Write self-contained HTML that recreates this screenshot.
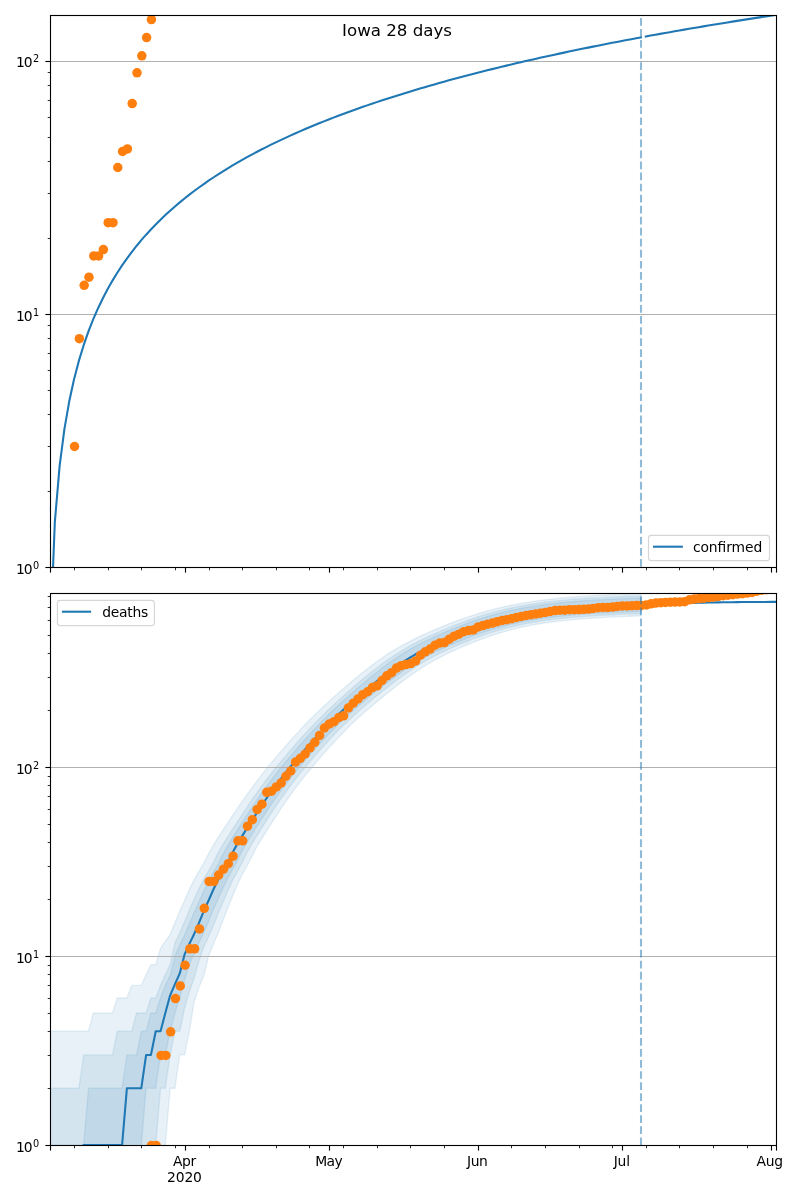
<!DOCTYPE html>
<html><head><meta charset="utf-8"><title>Iowa 28 days</title>
<style>html,body{margin:0;padding:0;background:#fff}body{width:800px;height:1200px;overflow:hidden}</style></head>
<body>
<svg width="800" height="1200" viewBox="0 0 800 1200" style="display:block;font-family:'DejaVu Sans', 'Liberation Sans', sans-serif">
<rect width="800" height="1200" fill="#fff"/>
<defs><clipPath id="c1"><rect x="50.03" y="15" width="726.4" height="552.4"/></clipPath><clipPath id="c2"><rect x="50.03" y="593" width="726.4" height="552.4"/></clipPath></defs>
<g clip-path="url(#c2)">
<polygon points="50.03,1031.31 54.83,1031.31 59.64,1031.31 64.44,1031.31 69.25,1031.31 74.05,1031.31 78.86,1031.31 83.66,1031.31 88.47,1031.31 93.27,1012.99 98.08,1012.99 102.88,1012.99 107.68,1012.99 112.49,1012.99 117.29,998.03 122.1,998.03 126.9,998.03 131.71,985.38 136.51,985.38 141.32,985.38 146.12,974.42 150.92,964.75 155.73,964.75 160.53,948.28 165.34,941.13 170.14,934.56 174.95,922.82 179.75,911.11 184.56,900.45 189.36,889.54 194.16,879.59 198.97,871.35 203.77,863.17 208.58,853.52 213.38,845.03 218.19,837.44 222.99,830 227.8,822.69 232.6,815.52 237.41,808.39 242.21,801.44 247.01,794.54 251.82,787.88 256.62,781.39 261.43,775.09 266.23,769.01 271.04,763.15 275.84,757.41 280.65,751.76 285.45,746.19 290.25,740.73 295.06,735.38 299.86,730.15 304.67,725.06 309.47,720.1 314.28,715.29 319.08,710.65 323.89,706.13 328.69,701.7 333.5,697.33 338.3,693.03 343.1,688.82 347.91,684.69 352.71,680.63 357.52,676.67 362.32,672.8 367.13,669.02 371.93,665.34 376.74,661.77 381.54,658.3 386.35,654.94 391.15,651.87 395.95,648.97 400.76,646.22 405.56,643.58 410.37,641.05 415.17,638.6 419.98,636.27 424.78,634.04 429.59,631.89 434.39,629.8 439.19,627.77 444,625.79 448.8,623.86 453.61,622.01 458.41,620.24 463.22,618.54 468.02,616.89 472.83,615.3 477.63,613.79 482.43,612.36 487.24,611.02 492.04,609.74 496.85,608.51 501.65,607.36 506.46,606.29 511.26,605.29 516.07,604.34 520.87,603.44 525.68,602.6 530.48,601.83 535.28,601.12 540.09,600.45 544.89,599.83 549.7,599.25 554.5,598.72 559.31,598.22 564.11,597.76 568.92,597.33 573.72,596.93 578.52,596.56 583.33,596.22 588.13,595.91 592.94,595.61 597.74,595.34 602.55,595.08 607.35,594.83 612.16,594.59 616.96,594.37 621.77,594.15 626.57,593.94 631.37,593.74 636.18,593.56 640.98,593.37 640.98,615.84 636.18,616.03 631.37,616.22 626.57,616.42 621.77,616.64 616.96,616.86 612.16,617.09 607.35,617.34 602.55,617.6 597.74,617.88 592.94,618.18 588.13,618.5 583.33,618.84 578.52,619.22 573.72,619.63 568.92,620.08 564.11,620.57 559.31,621.11 554.5,621.68 549.7,622.31 544.89,622.99 540.09,623.75 535.28,624.56 530.48,625.44 525.68,626.4 520.87,627.44 516.07,628.58 511.26,629.79 506.46,631.08 501.65,632.45 496.85,633.92 492.04,635.5 487.24,637.16 482.43,638.89 477.63,640.68 472.83,642.54 468.02,644.48 463.22,646.48 458.41,648.56 453.61,650.72 448.8,652.95 444,655.27 439.19,657.72 434.39,660.33 429.59,663.1 424.78,666.01 419.98,669.06 415.17,672.26 410.37,675.6 405.56,679.06 400.76,682.65 395.95,686.35 391.15,690.16 386.35,694.07 381.54,697.91 376.74,701.86 371.93,705.9 367.13,710.01 362.32,714.22 357.52,718.58 352.71,723.11 347.91,727.8 343.1,732.64 338.3,737.64 333.5,742.77 328.69,748.04 323.89,753.42 319.08,758.91 314.28,764.49 309.47,770.21 304.67,776.15 299.86,782.32 295.06,788.69 290.25,795.24 285.45,802.04 280.65,809.2 275.84,816.55 271.04,823.96 266.23,831.54 261.43,839.23 256.62,847.25 251.82,856.53 247.01,866.09 242.21,874.48 237.41,884.49 232.6,896.11 227.8,907.89 222.99,920.53 218.19,932.89 213.38,943.93 208.58,955.98 203.77,975.93 198.97,987.37 194.16,1001.79 189.36,1031.31 184.56,1054.92 179.75,1054.92 174.95,1088.21 170.14,1088.21 165.34,1145.1 160.53,1400 155.73,1400 150.92,1400 146.12,1400 141.32,1400 136.51,1400 131.71,1400 126.9,1400 122.1,1400 117.29,1400 112.49,1400 107.68,1400 102.88,1400 98.08,1400 93.27,1400 88.47,1400 83.66,1400 78.86,1400 74.05,1400 69.25,1400 64.44,1400 59.64,1400 54.83,1400 50.03,1400" fill="#1f77b4" fill-opacity="0.1" stroke="#1f77b4" stroke-opacity="0.1" stroke-width="1.39" stroke-linejoin="miter"/>
<polygon points="50.03,1088.21 54.83,1088.21 59.64,1088.21 64.44,1088.21 69.25,1088.21 74.05,1088.21 78.86,1088.21 83.66,1054.92 88.47,1054.92 93.27,1054.92 98.08,1054.92 102.88,1054.92 107.68,1054.92 112.49,1054.92 117.29,1031.31 122.1,1031.31 126.9,1031.31 131.71,1031.31 136.51,1012.99 141.32,1012.99 146.12,1012.99 150.92,998.03 155.73,998.03 160.53,985.38 165.34,974.42 170.14,964.75 174.95,942.9 179.75,932.88 184.56,921.67 189.36,910 194.16,899.36 198.97,888.81 203.77,879.22 208.58,870.92 213.38,862.61 218.19,852.83 222.99,844.35 227.8,836.72 232.6,829.2 237.41,821.82 242.21,814.59 247.01,807.17 251.82,799.97 256.62,793.14 261.43,786.49 266.23,780.03 271.04,773.77 275.84,767.72 280.65,761.89 285.45,756.15 290.25,750.5 295.06,744.95 299.86,739.5 304.67,734.17 309.47,728.96 314.28,723.87 319.08,718.93 323.89,714.14 328.69,709.51 333.5,705 338.3,700.57 343.1,696.22 347.91,691.94 352.71,687.74 357.52,683.61 362.32,679.57 367.13,675.62 371.93,671.76 376.74,668 381.54,664.33 386.35,660.78 391.15,657.49 395.95,654.32 400.76,651.29 405.56,648.42 410.37,645.7 415.17,643.1 419.98,640.62 424.78,638.26 429.59,635.99 434.39,633.8 439.19,631.69 444,629.65 448.8,627.67 453.61,625.73 458.41,623.85 463.22,622.03 468.02,620.27 472.83,618.59 477.63,616.98 482.43,615.46 487.24,614.02 492.04,612.66 496.85,611.37 501.65,610.15 506.46,609.02 511.26,607.95 516.07,606.95 520.87,606.01 525.68,605.13 530.48,604.33 535.28,603.59 540.09,602.9 544.89,602.26 549.7,601.66 554.5,601.11 559.31,600.6 564.11,600.13 568.92,599.68 573.72,599.27 578.52,598.9 583.33,598.56 588.13,598.24 592.94,597.94 597.74,597.67 602.55,597.4 607.35,597.15 612.16,596.91 616.96,596.69 621.77,596.47 626.57,596.26 631.37,596.07 636.18,595.88 640.98,595.69 640.98,613.53 636.18,613.72 631.37,613.9 626.57,614.1 621.77,614.31 616.96,614.53 612.16,614.77 607.35,615.01 602.55,615.27 597.74,615.54 592.94,615.83 588.13,616.14 583.33,616.47 578.52,616.84 573.72,617.23 568.92,617.67 564.11,618.14 559.31,618.66 554.5,619.21 549.7,619.81 544.89,620.46 540.09,621.17 535.28,621.94 530.48,622.78 525.68,623.69 520.87,624.67 516.07,625.74 511.26,626.89 506.46,628.11 501.65,629.41 496.85,630.81 492.04,632.29 487.24,633.87 482.43,635.53 477.63,637.28 472.83,639.1 468.02,640.98 463.22,642.92 458.41,644.91 453.61,646.97 448.8,649.1 444,651.32 439.19,653.63 434.39,656.06 429.59,658.62 424.78,661.34 419.98,664.22 415.17,667.25 410.37,670.43 405.56,673.75 400.76,677.2 395.95,680.76 391.15,684.44 386.35,688.22 381.54,691.97 376.74,695.82 371.93,699.76 367.13,703.8 362.32,707.91 357.52,712.11 352.71,716.43 347.91,720.91 343.1,725.56 338.3,730.36 333.5,735.33 328.69,740.43 323.89,745.67 319.08,751.02 314.28,756.49 309.47,762.05 304.67,767.72 299.86,773.58 295.06,779.67 290.25,785.98 285.45,792.48 280.65,799.16 275.84,806.2 271.04,813.52 266.23,820.9 261.43,828.41 256.62,836.1 251.82,843.88 247.01,852.5 242.21,862.54 237.41,871.42 232.6,880.39 227.8,890.84 222.99,902.18 218.19,913.41 213.38,925.56 208.58,936.8 203.77,947.05 198.97,960.92 194.16,978.13 189.36,991.46 184.56,1008.21 179.75,1031.31 174.95,1031.31 170.14,1054.92 165.34,1088.21 160.53,1088.21 155.73,1145.1 150.92,1400 146.12,1400 141.32,1400 136.51,1400 131.71,1400 126.9,1400 122.1,1400 117.29,1400 112.49,1400 107.68,1400 102.88,1400 98.08,1400 93.27,1400 88.47,1400 83.66,1400 78.86,1400 74.05,1400 69.25,1400 64.44,1400 59.64,1400 54.83,1400 50.03,1400" fill="#1f77b4" fill-opacity="0.1" stroke="#1f77b4" stroke-opacity="0.1" stroke-width="1.39" stroke-linejoin="miter"/>
<polygon points="50.03,1145.1 54.83,1145.1 59.64,1145.1 64.44,1145.1 69.25,1145.1 74.05,1145.1 78.86,1145.1 83.66,1145.1 88.47,1088.21 93.27,1088.21 98.08,1088.21 102.88,1088.21 107.68,1088.21 112.49,1088.21 117.29,1088.21 122.1,1088.21 126.9,1054.92 131.71,1054.92 136.51,1054.92 141.32,1031.31 146.12,1031.31 150.92,1012.99 155.73,1012.99 160.53,998.03 165.34,985.38 170.14,975.45 174.95,955.98 179.75,944.92 184.56,934.97 189.36,923.96 194.16,912.24 198.97,901.68 203.77,890.91 208.58,880.94 213.38,872.35 218.19,864 222.99,854.19 227.8,845.38 232.6,837.55 237.41,829.91 242.21,822.41 247.01,814.94 251.82,807.52 256.62,800.31 261.43,793.45 266.23,786.81 271.04,780.34 275.84,774.06 280.65,768.01 285.45,762.16 290.25,756.43 295.06,750.78 299.86,745.23 304.67,739.78 309.47,734.44 314.28,729.23 319.08,724.15 323.89,719.21 328.69,714.41 333.5,709.78 338.3,705.29 343.1,700.88 347.91,696.54 352.71,692.27 357.52,688.08 362.32,683.97 367.13,679.95 371.93,676.01 376.74,672.18 381.54,668.44 386.35,664.8 391.15,661.41 395.95,658.13 400.76,654.97 405.56,651.96 410.37,649.1 415.17,646.4 419.98,643.84 424.78,641.41 429.59,639.08 434.39,636.83 439.19,634.67 444,632.59 448.8,630.58 453.61,628.62 458.41,626.7 463.22,624.83 468.02,623.01 472.83,621.27 477.63,619.62 482.43,618.06 487.24,616.58 492.04,615.17 496.85,613.85 501.65,612.6 506.46,611.43 511.26,610.34 516.07,609.31 520.87,608.34 525.68,607.45 530.48,606.63 535.28,605.88 540.09,605.17 544.89,604.52 549.7,603.92 554.5,603.36 559.31,602.84 564.11,602.36 568.92,601.91 573.72,601.5 578.52,601.12 583.33,600.78 588.13,600.46 592.94,600.16 597.74,599.88 602.55,599.61 607.35,599.36 612.16,599.12 616.96,598.9 621.77,598.68 626.57,598.47 631.37,598.27 636.18,598.09 640.98,597.9 640.98,611.32 636.18,611.51 631.37,611.69 626.57,611.89 621.77,612.1 616.96,612.32 612.16,612.55 607.35,612.79 602.55,613.05 597.74,613.32 592.94,613.6 588.13,613.9 583.33,614.23 578.52,614.58 573.72,614.97 568.92,615.4 564.11,615.87 559.31,616.36 554.5,616.9 549.7,617.48 544.89,618.11 540.09,618.8 535.28,619.54 530.48,620.34 525.68,621.22 520.87,622.17 516.07,623.2 511.26,624.3 506.46,625.46 501.65,626.72 496.85,628.06 492.04,629.49 487.24,631 482.43,632.59 477.63,634.28 472.83,636.06 468.02,637.91 463.22,639.81 458.41,641.75 453.61,643.74 448.8,645.8 444,647.94 439.19,650.17 434.39,652.49 429.59,654.92 424.78,657.47 419.98,660.19 415.17,663.07 410.37,666.12 405.56,669.31 400.76,672.63 395.95,676.07 391.15,679.63 386.35,683.31 381.54,686.97 376.74,690.73 371.93,694.6 367.13,698.56 362.32,702.61 357.52,706.73 352.71,710.94 347.91,715.25 343.1,719.71 338.3,724.35 333.5,729.15 328.69,734.1 323.89,739.2 319.08,744.43 314.28,749.78 309.47,755.24 304.67,760.79 299.86,766.44 295.06,772.27 290.25,778.33 285.45,784.6 280.65,791.07 275.84,797.71 271.04,804.7 266.23,811.98 261.43,819.35 256.62,826.85 251.82,834.51 247.01,842.23 242.21,850.65 237.41,860.68 232.6,869.54 227.8,878.1 222.99,887.91 218.19,898.83 213.38,909.58 208.58,921.32 203.77,932.66 198.97,942.8 194.16,953.17 189.36,964.75 184.56,979.71 179.75,998.03 174.95,1012.99 170.14,1031.31 165.34,1054.92 160.53,1054.92 155.73,1088.21 150.92,1088.21 146.12,1088.21 141.32,1145.1 136.51,1400 131.71,1400 126.9,1400 122.1,1400 117.29,1400 112.49,1400 107.68,1400 102.88,1400 98.08,1400 93.27,1400 88.47,1400 83.66,1400 78.86,1400 74.05,1400 69.25,1400 64.44,1400 59.64,1400 54.83,1400 50.03,1400" fill="#1f77b4" fill-opacity="0.1" stroke="#1f77b4" stroke-opacity="0.1" stroke-width="1.39" stroke-linejoin="miter"/>
</g>
<line x1="50.5" y1="61.5" x2="776.5" y2="61.5" stroke="#b0b0b0" stroke-width="1.11"/>
<line x1="50.5" y1="314.5" x2="776.5" y2="314.5" stroke="#b0b0b0" stroke-width="1.11"/>
<line x1="50.5" y1="767.5" x2="776.5" y2="767.5" stroke="#b0b0b0" stroke-width="1.11"/>
<line x1="50.5" y1="956.5" x2="776.5" y2="956.5" stroke="#b0b0b0" stroke-width="1.11"/>
<g clip-path="url(#c1)">
<polyline points="50.03,642.86 54.83,522.05 59.64,465.91 64.44,428.93 69.25,401.31 74.05,379.26 78.86,360.9 83.66,345.18 88.47,331.42 93.27,319.2 98.08,308.2 102.88,298.21 107.68,289.04 112.49,280.59 117.29,272.74 122.1,265.41 126.9,258.54 131.71,252.07 136.51,245.97 141.32,240.18 146.12,234.69 150.92,229.45 155.73,224.46 160.53,219.68 165.34,215.1 170.14,210.71 174.95,206.48 179.75,202.41 184.56,198.48 189.36,194.69 194.16,191.03 198.97,187.49 203.77,184.05 208.58,180.72 213.38,177.49 218.19,174.35 222.99,171.3 227.8,168.33 232.6,165.44 237.41,162.62 242.21,159.87 247.01,157.19 251.82,154.58 256.62,152.02 261.43,149.52 266.23,147.08 271.04,144.69 275.84,142.36 280.65,140.07 285.45,137.82 290.25,135.63 295.06,133.47 299.86,131.36 304.67,129.29 309.47,127.25 314.28,125.25 319.08,123.29 323.89,121.36 328.69,119.47 333.5,117.61 338.3,115.77 343.1,113.97 347.91,112.2 352.71,110.46 357.52,108.74 362.32,107.05 367.13,105.38 371.93,103.74 376.74,102.13 381.54,100.54 386.35,98.97 391.15,97.42 395.95,95.89 400.76,94.39 405.56,92.9 410.37,91.44 415.17,89.99 419.98,88.56 424.78,87.16 429.59,85.77 434.39,84.39 439.19,83.04 444,81.7 448.8,80.37 453.61,79.06 458.41,77.77 463.22,76.49 468.02,75.23 472.83,73.98 477.63,72.75 482.43,71.53 487.24,70.32 492.04,69.12 496.85,67.94 501.65,66.77 506.46,65.62 511.26,64.47 516.07,63.34 520.87,62.22 525.68,61.11 530.48,60.01 535.28,58.92 540.09,57.84 544.89,56.78 549.7,55.72 554.5,54.68 559.31,53.64 564.11,52.61 568.92,51.59 573.72,50.59 578.52,49.59 583.33,48.6 588.13,47.62 592.94,46.64 597.74,45.68 602.55,44.72 607.35,43.78 612.16,42.84 616.96,41.91 621.77,40.98 626.57,40.07 631.37,39.16 636.18,38.26 640.98,37.37" fill="none" stroke="#1f77b4" stroke-width="2.08" stroke-linejoin="round" stroke-linecap="square"/>
<polyline points="645.79,36.48 650.59,35.6 655.4,34.73 660.2,33.86 665.01,33.01 669.81,32.15 674.62,31.31 679.42,30.47 684.22,29.64 689.03,28.81 693.83,27.99 698.64,27.18 703.44,26.37 708.25,25.57 713.05,24.77 717.86,23.98 722.66,23.2 727.46,22.42 732.27,21.64 737.07,20.87 741.88,20.11 746.68,19.35 751.49,18.6 756.29,17.85 761.1,17.11 765.9,16.37 770.7,15.64 775.51,14.91 780.31,14.19" fill="none" stroke="#1f77b4" stroke-width="2.08" stroke-linejoin="round" stroke-linecap="square"/>
<circle cx="74.55" cy="446.49" r="4.75" fill="#ff7f0e"/>
<circle cx="79.36" cy="338.72" r="4.75" fill="#ff7f0e"/>
<circle cx="84.16" cy="285.37" r="4.75" fill="#ff7f0e"/>
<circle cx="88.97" cy="277.23" r="4.75" fill="#ff7f0e"/>
<circle cx="93.77" cy="255.9" r="4.75" fill="#ff7f0e"/>
<circle cx="98.58" cy="255.9" r="4.75" fill="#ff7f0e"/>
<circle cx="103.38" cy="249.62" r="4.75" fill="#ff7f0e"/>
<circle cx="108.18" cy="222.68" r="4.75" fill="#ff7f0e"/>
<circle cx="112.99" cy="222.68" r="4.75" fill="#ff7f0e"/>
<circle cx="117.79" cy="167.51" r="4.75" fill="#ff7f0e"/>
<circle cx="122.6" cy="151.41" r="4.75" fill="#ff7f0e"/>
<circle cx="127.4" cy="148.94" r="4.75" fill="#ff7f0e"/>
<circle cx="132.21" cy="103.58" r="4.75" fill="#ff7f0e"/>
<circle cx="137.01" cy="72.78" r="4.75" fill="#ff7f0e"/>
<circle cx="141.82" cy="55.84" r="4.75" fill="#ff7f0e"/>
<circle cx="146.62" cy="37.56" r="4.75" fill="#ff7f0e"/>
<circle cx="151.42" cy="19.62" r="4.75" fill="#ff7f0e"/>
<line x1="641" y1="566.7" x2="641" y2="14.700000000000045" stroke="#1f77b4" stroke-opacity="0.5" stroke-width="2.08" stroke-dasharray="7.71 3.33"/>
</g>
<g clip-path="url(#c2)">
<polyline points="83.66,1145.1 88.47,1145.1 93.27,1145.1 98.08,1145.1 102.88,1145.1 107.68,1145.1 112.49,1145.1 117.29,1145.1 122.1,1145.1 126.9,1088.21 131.71,1088.21 136.51,1088.21 141.32,1088.21 146.12,1054.92 150.92,1054.92 155.73,1031.31 160.53,1031.31 165.34,1012.99 170.14,995.34 174.95,984.21 179.75,973.4 184.56,954.47 189.36,943.92 194.16,933.94 198.97,922.82 203.77,911.11 208.58,900.45 213.38,889.54 218.19,879.59 222.99,871.01 227.8,862.44 232.6,852.38 237.41,843.72 242.21,835.92 247.01,828.2 251.82,820.64 256.62,813.22 261.43,805.85 266.23,798.75 271.04,792.01 275.84,785.45 280.65,779.07 285.45,772.9 290.25,766.96 295.06,761.22 299.86,755.57 304.67,750.01 309.47,744.56 314.28,739.21 319.08,733.98 323.89,728.89 328.69,723.94 333.5,719.14 338.3,714.5 343.1,710.04 347.91,705.7 352.71,701.43 357.52,697.23 362.32,693.11 367.13,689.07 371.93,685.12 376.74,681.27 381.54,677.52 386.35,673.87 391.15,670.34 395.95,666.92 400.76,663.62 405.56,660.45 410.37,657.41 415.17,654.53 419.98,651.84 424.78,649.3 429.59,646.89 434.39,644.56 439.19,642.32 444,640.18 448.8,638.11 453.61,636.12 458.41,634.18 463.22,632.27 468.02,630.4 472.83,628.59 477.63,626.87 482.43,625.25 487.24,623.73 492.04,622.28 496.85,620.9 501.65,619.6 506.46,618.4 511.26,617.28 516.07,616.22 520.87,615.22 525.68,614.3 530.48,613.46 535.28,612.69 540.09,611.97 544.89,611.3 549.7,610.68 554.5,610.12 559.31,609.59 564.11,609.1 568.92,608.65 573.72,608.23 578.52,607.85 583.33,607.5 588.13,607.18 592.94,606.88 597.74,606.6 602.55,606.33 607.35,606.07 612.16,605.83 616.96,605.61 621.77,605.39 626.57,605.18 631.37,604.98 636.18,604.8 640.98,604.61" fill="none" stroke="#1f77b4" stroke-width="2.08" stroke-linejoin="round" stroke-linecap="square"/>
<polyline points="645.79,604.4 650.59,604.19 655.4,603.97 660.2,603.77 665.01,603.6 669.81,603.45 674.62,603.32 679.42,603.2 684.22,603.08 689.03,602.97 693.83,602.86 698.64,602.74 703.44,602.63 708.25,602.52 713.05,602.42 717.86,602.34 722.66,602.27 727.46,602.22 732.27,602.17 737.07,602.12 741.88,602.08 746.68,602.04 751.49,602.01 756.29,601.98 761.1,601.95 765.9,601.92 770.7,601.9 775.51,601.88 780.31,601.86" fill="none" stroke="#1f77b4" stroke-width="2.08" stroke-linejoin="round" stroke-linecap="square"/>
<circle cx="151.42" cy="1145.6" r="4.75" fill="#ff7f0e"/>
<circle cx="156.23" cy="1145.6" r="4.75" fill="#ff7f0e"/>
<circle cx="161.03" cy="1055.42" r="4.75" fill="#ff7f0e"/>
<circle cx="165.84" cy="1055.42" r="4.75" fill="#ff7f0e"/>
<circle cx="170.64" cy="1031.81" r="4.75" fill="#ff7f0e"/>
<circle cx="175.45" cy="998.53" r="4.75" fill="#ff7f0e"/>
<circle cx="180.25" cy="985.88" r="4.75" fill="#ff7f0e"/>
<circle cx="185.06" cy="965.25" r="4.75" fill="#ff7f0e"/>
<circle cx="189.86" cy="948.78" r="4.75" fill="#ff7f0e"/>
<circle cx="194.66" cy="948.78" r="4.75" fill="#ff7f0e"/>
<circle cx="199.47" cy="928.98" r="4.75" fill="#ff7f0e"/>
<circle cx="204.27" cy="908.35" r="4.75" fill="#ff7f0e"/>
<circle cx="209.08" cy="881.39" r="4.75" fill="#ff7f0e"/>
<circle cx="213.88" cy="881.39" r="4.75" fill="#ff7f0e"/>
<circle cx="218.69" cy="875.07" r="4.75" fill="#ff7f0e"/>
<circle cx="223.49" cy="869.21" r="4.75" fill="#ff7f0e"/>
<circle cx="228.3" cy="863.73" r="4.75" fill="#ff7f0e"/>
<circle cx="233.1" cy="856.15" r="4.75" fill="#ff7f0e"/>
<circle cx="237.91" cy="840.78" r="4.75" fill="#ff7f0e"/>
<circle cx="242.71" cy="840.78" r="4.75" fill="#ff7f0e"/>
<circle cx="247.51" cy="826.15" r="4.75" fill="#ff7f0e"/>
<circle cx="252.32" cy="819.71" r="4.75" fill="#ff7f0e"/>
<circle cx="257.12" cy="809.53" r="4.75" fill="#ff7f0e"/>
<circle cx="261.93" cy="804.23" r="4.75" fill="#ff7f0e"/>
<circle cx="266.73" cy="792.32" r="4.75" fill="#ff7f0e"/>
<circle cx="271.54" cy="791.21" r="4.75" fill="#ff7f0e"/>
<circle cx="276.34" cy="786.95" r="4.75" fill="#ff7f0e"/>
<circle cx="281.15" cy="782.89" r="4.75" fill="#ff7f0e"/>
<circle cx="285.95" cy="776.25" r="4.75" fill="#ff7f0e"/>
<circle cx="290.75" cy="770.95" r="4.75" fill="#ff7f0e"/>
<circle cx="295.56" cy="762.05" r="4.75" fill="#ff7f0e"/>
<circle cx="300.36" cy="758.3" r="4.75" fill="#ff7f0e"/>
<circle cx="305.17" cy="754.01" r="4.75" fill="#ff7f0e"/>
<circle cx="309.97" cy="747.98" r="4.75" fill="#ff7f0e"/>
<circle cx="314.78" cy="742.36" r="4.75" fill="#ff7f0e"/>
<circle cx="319.58" cy="735.42" r="4.75" fill="#ff7f0e"/>
<circle cx="324.39" cy="728" r="4.75" fill="#ff7f0e"/>
<circle cx="329.19" cy="724.05" r="4.75" fill="#ff7f0e"/>
<circle cx="334" cy="721.67" r="4.75" fill="#ff7f0e"/>
<circle cx="338.8" cy="717.55" r="4.75" fill="#ff7f0e"/>
<circle cx="343.6" cy="715.78" r="4.75" fill="#ff7f0e"/>
<circle cx="348.41" cy="707.88" r="4.75" fill="#ff7f0e"/>
<circle cx="353.21" cy="703.26" r="4.75" fill="#ff7f0e"/>
<circle cx="358.02" cy="698.88" r="4.75" fill="#ff7f0e"/>
<circle cx="362.82" cy="694.72" r="4.75" fill="#ff7f0e"/>
<circle cx="367.63" cy="691.74" r="4.75" fill="#ff7f0e"/>
<circle cx="372.43" cy="687.61" r="4.75" fill="#ff7f0e"/>
<circle cx="377.24" cy="685.77" r="4.75" fill="#ff7f0e"/>
<circle cx="382.04" cy="680.49" r="4.75" fill="#ff7f0e"/>
<circle cx="386.85" cy="675.8" r="4.75" fill="#ff7f0e"/>
<circle cx="391.65" cy="672.64" r="4.75" fill="#ff7f0e"/>
<circle cx="396.45" cy="668.12" r="4.75" fill="#ff7f0e"/>
<circle cx="401.26" cy="665.71" r="4.75" fill="#ff7f0e"/>
<circle cx="406.06" cy="664.54" r="4.75" fill="#ff7f0e"/>
<circle cx="410.87" cy="663.61" r="4.75" fill="#ff7f0e"/>
<circle cx="415.67" cy="660.88" r="4.75" fill="#ff7f0e"/>
<circle cx="420.48" cy="655.26" r="4.75" fill="#ff7f0e"/>
<circle cx="425.28" cy="651.78" r="4.75" fill="#ff7f0e"/>
<circle cx="430.09" cy="649.03" r="4.75" fill="#ff7f0e"/>
<circle cx="434.89" cy="645.24" r="4.75" fill="#ff7f0e"/>
<circle cx="439.69" cy="643.06" r="4.75" fill="#ff7f0e"/>
<circle cx="444.5" cy="642.52" r="4.75" fill="#ff7f0e"/>
<circle cx="449.3" cy="639.19" r="4.75" fill="#ff7f0e"/>
<circle cx="454.11" cy="636.15" r="4.75" fill="#ff7f0e"/>
<circle cx="458.91" cy="634.19" r="4.75" fill="#ff7f0e"/>
<circle cx="463.72" cy="631.65" r="4.75" fill="#ff7f0e"/>
<circle cx="468.52" cy="630.56" r="4.75" fill="#ff7f0e"/>
<circle cx="473.33" cy="629.94" r="4.75" fill="#ff7f0e"/>
<circle cx="478.13" cy="626.93" r="4.75" fill="#ff7f0e"/>
<circle cx="482.93" cy="625.61" r="4.75" fill="#ff7f0e"/>
<circle cx="487.74" cy="624.17" r="4.75" fill="#ff7f0e"/>
<circle cx="492.54" cy="623.03" r="4.75" fill="#ff7f0e"/>
<circle cx="497.35" cy="621.63" r="4.75" fill="#ff7f0e"/>
<circle cx="502.15" cy="620.39" r="4.75" fill="#ff7f0e"/>
<circle cx="506.96" cy="619.71" r="4.75" fill="#ff7f0e"/>
<circle cx="511.76" cy="618.64" r="4.75" fill="#ff7f0e"/>
<circle cx="516.57" cy="617.44" r="4.75" fill="#ff7f0e"/>
<circle cx="521.37" cy="616.39" r="4.75" fill="#ff7f0e"/>
<circle cx="526.18" cy="615.49" r="4.75" fill="#ff7f0e"/>
<circle cx="530.98" cy="614.72" r="4.75" fill="#ff7f0e"/>
<circle cx="535.78" cy="613.96" r="4.75" fill="#ff7f0e"/>
<circle cx="540.59" cy="613.21" r="4.75" fill="#ff7f0e"/>
<circle cx="545.39" cy="612.46" r="4.75" fill="#ff7f0e"/>
<circle cx="550.2" cy="611.47" r="4.75" fill="#ff7f0e"/>
<circle cx="555" cy="610.62" r="4.75" fill="#ff7f0e"/>
<circle cx="559.81" cy="610.26" r="4.75" fill="#ff7f0e"/>
<circle cx="564.61" cy="610.14" r="4.75" fill="#ff7f0e"/>
<circle cx="569.42" cy="609.65" r="4.75" fill="#ff7f0e"/>
<circle cx="574.22" cy="609.65" r="4.75" fill="#ff7f0e"/>
<circle cx="579.02" cy="609.53" r="4.75" fill="#ff7f0e"/>
<circle cx="583.83" cy="609.3" r="4.75" fill="#ff7f0e"/>
<circle cx="588.63" cy="609.06" r="4.75" fill="#ff7f0e"/>
<circle cx="593.44" cy="608.46" r="4.75" fill="#ff7f0e"/>
<circle cx="598.24" cy="607.76" r="4.75" fill="#ff7f0e"/>
<circle cx="603.05" cy="607.41" r="4.75" fill="#ff7f0e"/>
<circle cx="607.85" cy="607.41" r="4.75" fill="#ff7f0e"/>
<circle cx="612.66" cy="607.06" r="4.75" fill="#ff7f0e"/>
<circle cx="617.46" cy="606.48" r="4.75" fill="#ff7f0e"/>
<circle cx="622.27" cy="605.91" r="4.75" fill="#ff7f0e"/>
<circle cx="627.07" cy="605.91" r="4.75" fill="#ff7f0e"/>
<circle cx="631.87" cy="605.68" r="4.75" fill="#ff7f0e"/>
<circle cx="636.68" cy="605.56" r="4.75" fill="#ff7f0e"/>
<circle cx="641.48" cy="605.45" r="4.75" fill="#ff7f0e"/>
<circle cx="646.29" cy="605" r="4.75" fill="#ff7f0e"/>
<circle cx="651.09" cy="603.87" r="4.75" fill="#ff7f0e"/>
<circle cx="655.9" cy="603.09" r="4.75" fill="#ff7f0e"/>
<circle cx="660.7" cy="602.76" r="4.75" fill="#ff7f0e"/>
<circle cx="665.51" cy="602.43" r="4.75" fill="#ff7f0e"/>
<circle cx="670.31" cy="602.21" r="4.75" fill="#ff7f0e"/>
<circle cx="675.12" cy="602.1" r="4.75" fill="#ff7f0e"/>
<circle cx="679.92" cy="601.99" r="4.75" fill="#ff7f0e"/>
<circle cx="684.72" cy="601.67" r="4.75" fill="#ff7f0e"/>
<circle cx="689.53" cy="599.84" r="4.75" fill="#ff7f0e"/>
<circle cx="694.33" cy="599.1" r="4.75" fill="#ff7f0e"/>
<circle cx="699.14" cy="598.57" r="4.75" fill="#ff7f0e"/>
<circle cx="703.94" cy="598.16" r="4.75" fill="#ff7f0e"/>
<circle cx="708.75" cy="597.53" r="4.75" fill="#ff7f0e"/>
<circle cx="713.55" cy="597.02" r="4.75" fill="#ff7f0e"/>
<circle cx="718.36" cy="596.4" r="4.75" fill="#ff7f0e"/>
<circle cx="723.16" cy="595.69" r="4.75" fill="#ff7f0e"/>
<circle cx="727.96" cy="595.19" r="4.75" fill="#ff7f0e"/>
<circle cx="732.77" cy="594.69" r="4.75" fill="#ff7f0e"/>
<circle cx="737.57" cy="594.09" r="4.75" fill="#ff7f0e"/>
<circle cx="742.38" cy="593.7" r="4.75" fill="#ff7f0e"/>
<circle cx="747.18" cy="593.11" r="4.75" fill="#ff7f0e"/>
<circle cx="751.99" cy="592.42" r="4.75" fill="#ff7f0e"/>
<circle cx="756.79" cy="591.17" r="4.75" fill="#ff7f0e"/>
<circle cx="761.6" cy="590.22" r="4.75" fill="#ff7f0e"/>
<circle cx="766.4" cy="589.65" r="4.75" fill="#ff7f0e"/>
<circle cx="771.2" cy="589.28" r="4.75" fill="#ff7f0e"/>
<line x1="641" y1="1145.1" x2="641" y2="593.0999999999999" stroke="#1f77b4" stroke-opacity="0.5" stroke-width="2.08" stroke-dasharray="7.71 3.33"/>
</g>
<line x1="50.5" y1="567.5" x2="50.5" y2="572.6" stroke="#000" stroke-width="1.11"/>
<line x1="185.5" y1="567.5" x2="185.5" y2="572.6" stroke="#000" stroke-width="1.11"/>
<line x1="329.5" y1="567.5" x2="329.5" y2="572.6" stroke="#000" stroke-width="1.11"/>
<line x1="478.5" y1="567.5" x2="478.5" y2="572.6" stroke="#000" stroke-width="1.11"/>
<line x1="622.5" y1="567.5" x2="622.5" y2="572.6" stroke="#000" stroke-width="1.11"/>
<line x1="771.5" y1="567.5" x2="771.5" y2="572.6" stroke="#000" stroke-width="1.11"/>
<line x1="776.5" y1="567.5" x2="776.5" y2="572.6" stroke="#000" stroke-width="1.11"/>
<line x1="74.5" y1="567.5" x2="74.5" y2="570.28" stroke="#000" stroke-width="0.83"/>
<line x1="108.5" y1="567.5" x2="108.5" y2="570.28" stroke="#000" stroke-width="0.83"/>
<line x1="141.5" y1="567.5" x2="141.5" y2="570.28" stroke="#000" stroke-width="0.83"/>
<line x1="175.5" y1="567.5" x2="175.5" y2="570.28" stroke="#000" stroke-width="0.83"/>
<line x1="209.5" y1="567.5" x2="209.5" y2="570.28" stroke="#000" stroke-width="0.83"/>
<line x1="242.5" y1="567.5" x2="242.5" y2="570.28" stroke="#000" stroke-width="0.83"/>
<line x1="276.5" y1="567.5" x2="276.5" y2="570.28" stroke="#000" stroke-width="0.83"/>
<line x1="309.5" y1="567.5" x2="309.5" y2="570.28" stroke="#000" stroke-width="0.83"/>
<line x1="343.5" y1="567.5" x2="343.5" y2="570.28" stroke="#000" stroke-width="0.83"/>
<line x1="377.5" y1="567.5" x2="377.5" y2="570.28" stroke="#000" stroke-width="0.83"/>
<line x1="410.5" y1="567.5" x2="410.5" y2="570.28" stroke="#000" stroke-width="0.83"/>
<line x1="444.5" y1="567.5" x2="444.5" y2="570.28" stroke="#000" stroke-width="0.83"/>
<line x1="478.5" y1="567.5" x2="478.5" y2="570.28" stroke="#000" stroke-width="0.83"/>
<line x1="511.5" y1="567.5" x2="511.5" y2="570.28" stroke="#000" stroke-width="0.83"/>
<line x1="545.5" y1="567.5" x2="545.5" y2="570.28" stroke="#000" stroke-width="0.83"/>
<line x1="579.5" y1="567.5" x2="579.5" y2="570.28" stroke="#000" stroke-width="0.83"/>
<line x1="612.5" y1="567.5" x2="612.5" y2="570.28" stroke="#000" stroke-width="0.83"/>
<line x1="646.5" y1="567.5" x2="646.5" y2="570.28" stroke="#000" stroke-width="0.83"/>
<line x1="679.5" y1="567.5" x2="679.5" y2="570.28" stroke="#000" stroke-width="0.83"/>
<line x1="713.5" y1="567.5" x2="713.5" y2="570.28" stroke="#000" stroke-width="0.83"/>
<line x1="747.5" y1="567.5" x2="747.5" y2="570.28" stroke="#000" stroke-width="0.83"/>
<line x1="50.5" y1="1145.5" x2="50.5" y2="1150.6" stroke="#000" stroke-width="1.11"/>
<line x1="185.5" y1="1145.5" x2="185.5" y2="1150.6" stroke="#000" stroke-width="1.11"/>
<line x1="329.5" y1="1145.5" x2="329.5" y2="1150.6" stroke="#000" stroke-width="1.11"/>
<line x1="478.5" y1="1145.5" x2="478.5" y2="1150.6" stroke="#000" stroke-width="1.11"/>
<line x1="622.5" y1="1145.5" x2="622.5" y2="1150.6" stroke="#000" stroke-width="1.11"/>
<line x1="771.5" y1="1145.5" x2="771.5" y2="1150.6" stroke="#000" stroke-width="1.11"/>
<line x1="776.5" y1="1145.5" x2="776.5" y2="1150.6" stroke="#000" stroke-width="1.11"/>
<line x1="74.5" y1="1145.5" x2="74.5" y2="1148.28" stroke="#000" stroke-width="0.83"/>
<line x1="108.5" y1="1145.5" x2="108.5" y2="1148.28" stroke="#000" stroke-width="0.83"/>
<line x1="141.5" y1="1145.5" x2="141.5" y2="1148.28" stroke="#000" stroke-width="0.83"/>
<line x1="175.5" y1="1145.5" x2="175.5" y2="1148.28" stroke="#000" stroke-width="0.83"/>
<line x1="209.5" y1="1145.5" x2="209.5" y2="1148.28" stroke="#000" stroke-width="0.83"/>
<line x1="242.5" y1="1145.5" x2="242.5" y2="1148.28" stroke="#000" stroke-width="0.83"/>
<line x1="276.5" y1="1145.5" x2="276.5" y2="1148.28" stroke="#000" stroke-width="0.83"/>
<line x1="309.5" y1="1145.5" x2="309.5" y2="1148.28" stroke="#000" stroke-width="0.83"/>
<line x1="343.5" y1="1145.5" x2="343.5" y2="1148.28" stroke="#000" stroke-width="0.83"/>
<line x1="377.5" y1="1145.5" x2="377.5" y2="1148.28" stroke="#000" stroke-width="0.83"/>
<line x1="410.5" y1="1145.5" x2="410.5" y2="1148.28" stroke="#000" stroke-width="0.83"/>
<line x1="444.5" y1="1145.5" x2="444.5" y2="1148.28" stroke="#000" stroke-width="0.83"/>
<line x1="478.5" y1="1145.5" x2="478.5" y2="1148.28" stroke="#000" stroke-width="0.83"/>
<line x1="511.5" y1="1145.5" x2="511.5" y2="1148.28" stroke="#000" stroke-width="0.83"/>
<line x1="545.5" y1="1145.5" x2="545.5" y2="1148.28" stroke="#000" stroke-width="0.83"/>
<line x1="579.5" y1="1145.5" x2="579.5" y2="1148.28" stroke="#000" stroke-width="0.83"/>
<line x1="612.5" y1="1145.5" x2="612.5" y2="1148.28" stroke="#000" stroke-width="0.83"/>
<line x1="646.5" y1="1145.5" x2="646.5" y2="1148.28" stroke="#000" stroke-width="0.83"/>
<line x1="679.5" y1="1145.5" x2="679.5" y2="1148.28" stroke="#000" stroke-width="0.83"/>
<line x1="713.5" y1="1145.5" x2="713.5" y2="1148.28" stroke="#000" stroke-width="0.83"/>
<line x1="747.5" y1="1145.5" x2="747.5" y2="1148.28" stroke="#000" stroke-width="0.83"/>
<line x1="45.4" y1="567.5" x2="50.5" y2="567.5" stroke="#000" stroke-width="1.11"/>
<line x1="47.72" y1="491.5" x2="50.5" y2="491.5" stroke="#000" stroke-width="0.83"/>
<line x1="47.72" y1="446.5" x2="50.5" y2="446.5" stroke="#000" stroke-width="0.83"/>
<line x1="47.72" y1="414.5" x2="50.5" y2="414.5" stroke="#000" stroke-width="0.83"/>
<line x1="47.72" y1="390.5" x2="50.5" y2="390.5" stroke="#000" stroke-width="0.83"/>
<line x1="47.72" y1="370.5" x2="50.5" y2="370.5" stroke="#000" stroke-width="0.83"/>
<line x1="47.72" y1="353.5" x2="50.5" y2="353.5" stroke="#000" stroke-width="0.83"/>
<line x1="47.72" y1="338.5" x2="50.5" y2="338.5" stroke="#000" stroke-width="0.83"/>
<line x1="47.72" y1="325.5" x2="50.5" y2="325.5" stroke="#000" stroke-width="0.83"/>
<line x1="45.4" y1="314.5" x2="50.5" y2="314.5" stroke="#000" stroke-width="1.11"/>
<line x1="47.72" y1="238.5" x2="50.5" y2="238.5" stroke="#000" stroke-width="0.83"/>
<line x1="47.72" y1="193.5" x2="50.5" y2="193.5" stroke="#000" stroke-width="0.83"/>
<line x1="47.72" y1="161.5" x2="50.5" y2="161.5" stroke="#000" stroke-width="0.83"/>
<line x1="47.72" y1="137.5" x2="50.5" y2="137.5" stroke="#000" stroke-width="0.83"/>
<line x1="47.72" y1="117.5" x2="50.5" y2="117.5" stroke="#000" stroke-width="0.83"/>
<line x1="47.72" y1="100.5" x2="50.5" y2="100.5" stroke="#000" stroke-width="0.83"/>
<line x1="47.72" y1="85.5" x2="50.5" y2="85.5" stroke="#000" stroke-width="0.83"/>
<line x1="47.72" y1="72.5" x2="50.5" y2="72.5" stroke="#000" stroke-width="0.83"/>
<line x1="45.4" y1="61.5" x2="50.5" y2="61.5" stroke="#000" stroke-width="1.11"/>
<line x1="45.4" y1="1145.5" x2="50.5" y2="1145.5" stroke="#000" stroke-width="1.11"/>
<line x1="47.72" y1="1088.5" x2="50.5" y2="1088.5" stroke="#000" stroke-width="0.83"/>
<line x1="47.72" y1="1055.5" x2="50.5" y2="1055.5" stroke="#000" stroke-width="0.83"/>
<line x1="47.72" y1="1031.5" x2="50.5" y2="1031.5" stroke="#000" stroke-width="0.83"/>
<line x1="47.72" y1="1013.5" x2="50.5" y2="1013.5" stroke="#000" stroke-width="0.83"/>
<line x1="47.72" y1="998.5" x2="50.5" y2="998.5" stroke="#000" stroke-width="0.83"/>
<line x1="47.72" y1="985.5" x2="50.5" y2="985.5" stroke="#000" stroke-width="0.83"/>
<line x1="47.72" y1="974.5" x2="50.5" y2="974.5" stroke="#000" stroke-width="0.83"/>
<line x1="47.72" y1="965.5" x2="50.5" y2="965.5" stroke="#000" stroke-width="0.83"/>
<line x1="45.4" y1="956.5" x2="50.5" y2="956.5" stroke="#000" stroke-width="1.11"/>
<line x1="47.72" y1="899.5" x2="50.5" y2="899.5" stroke="#000" stroke-width="0.83"/>
<line x1="47.72" y1="866.5" x2="50.5" y2="866.5" stroke="#000" stroke-width="0.83"/>
<line x1="47.72" y1="842.5" x2="50.5" y2="842.5" stroke="#000" stroke-width="0.83"/>
<line x1="47.72" y1="824.5" x2="50.5" y2="824.5" stroke="#000" stroke-width="0.83"/>
<line x1="47.72" y1="809.5" x2="50.5" y2="809.5" stroke="#000" stroke-width="0.83"/>
<line x1="47.72" y1="796.5" x2="50.5" y2="796.5" stroke="#000" stroke-width="0.83"/>
<line x1="47.72" y1="785.5" x2="50.5" y2="785.5" stroke="#000" stroke-width="0.83"/>
<line x1="47.72" y1="776.5" x2="50.5" y2="776.5" stroke="#000" stroke-width="0.83"/>
<line x1="45.4" y1="767.5" x2="50.5" y2="767.5" stroke="#000" stroke-width="1.11"/>
<line x1="47.72" y1="710.5" x2="50.5" y2="710.5" stroke="#000" stroke-width="0.83"/>
<line x1="47.72" y1="677.5" x2="50.5" y2="677.5" stroke="#000" stroke-width="0.83"/>
<line x1="47.72" y1="653.5" x2="50.5" y2="653.5" stroke="#000" stroke-width="0.83"/>
<line x1="47.72" y1="635.5" x2="50.5" y2="635.5" stroke="#000" stroke-width="0.83"/>
<line x1="47.72" y1="620.5" x2="50.5" y2="620.5" stroke="#000" stroke-width="0.83"/>
<line x1="47.72" y1="607.5" x2="50.5" y2="607.5" stroke="#000" stroke-width="0.83"/>
<line x1="47.72" y1="596.5" x2="50.5" y2="596.5" stroke="#000" stroke-width="0.83"/>
<rect x="50.5" y="15.5" width="726.0" height="552.0" fill="none" stroke="#000" stroke-width="1.11" stroke-linejoin="miter"/>
<rect x="50.5" y="593.5" width="726.0" height="552.0" fill="none" stroke="#000" stroke-width="1.11" stroke-linejoin="miter"/>
<text x="15.9" y="573.9" font-size="13.89" letter-spacing="-0.99" fill="#000">10</text>
<text x="33" y="568.85" font-size="9.72" text-anchor="start" fill="#000">0</text>
<text x="15.9" y="320.9" font-size="13.89" letter-spacing="-0.99" fill="#000">10</text>
<text x="33" y="315.85" font-size="9.72" text-anchor="start" fill="#000">1</text>
<text x="15.9" y="67" font-size="13.89" letter-spacing="-0.99" fill="#000">10</text>
<text x="33" y="61.8" font-size="9.72" text-anchor="start" fill="#000">2</text>
<text x="15.9" y="1151.9" font-size="13.89" letter-spacing="-0.99" fill="#000">10</text>
<text x="33" y="1146.85" font-size="9.72" text-anchor="start" fill="#000">0</text>
<text x="15.9" y="962.9" font-size="13.89" letter-spacing="-0.99" fill="#000">10</text>
<text x="33" y="957.85" font-size="9.72" text-anchor="start" fill="#000">1</text>
<text x="15.9" y="773.9" font-size="13.89" letter-spacing="-0.99" fill="#000">10</text>
<text x="33" y="768.85" font-size="9.72" text-anchor="start" fill="#000">2</text>
<text x="184.6" y="1165.8" font-size="13.89" text-anchor="middle" fill="#000" textLength="23.3" lengthAdjust="spacing">Apr</text>
<text x="328.95" y="1165.8" font-size="13.89" text-anchor="middle" fill="#000" textLength="27.6" lengthAdjust="spacing">May</text>
<text x="477.4" y="1165.8" font-size="13.89" text-anchor="middle" fill="#000" textLength="20.95" lengthAdjust="spacing">Jun</text>
<text x="621.9" y="1165.8" font-size="13.89" text-anchor="middle" fill="#000" textLength="16.5" lengthAdjust="spacing">Jul</text>
<text x="769.8" y="1165.8" font-size="13.89" text-anchor="middle" fill="#000" textLength="26.4" lengthAdjust="spacing">Aug</text>
<text x="184.5" y="1181.5" font-size="13.89" text-anchor="middle" fill="#000" textLength="34.85" lengthAdjust="spacing">2020</text>
<text x="397" y="36.3" font-size="16.67" text-anchor="middle" fill="#000" textLength="109.8" lengthAdjust="spacing">Iowa 28 days</text>
<rect x="648.5" y="535.4" width="121" height="25.2" rx="2.8" ry="2.8" fill="#fff" fill-opacity="0.8" stroke="#ccc" stroke-opacity="0.8" stroke-width="1.11"/>
<line x1="654.06" y1="546.7" x2="681.84" y2="546.7" stroke="#1f77b4" stroke-width="2.08" stroke-linecap="square"/>
<text x="692.95" y="551.5" font-size="13.89" text-anchor="start" fill="#000" textLength="69.25" lengthAdjust="spacing">confirmed</text>
<rect x="57.4" y="600.4" width="97" height="25.2" rx="2.8" ry="2.8" fill="#fff" fill-opacity="0.8" stroke="#ccc" stroke-opacity="0.8" stroke-width="1.11"/>
<line x1="62.96" y1="611.7" x2="90.04" y2="611.7" stroke="#1f77b4" stroke-width="2.08" stroke-linecap="square"/>
<text x="102.3" y="616.5" font-size="13.89" text-anchor="start" fill="#000" textLength="46.0" lengthAdjust="spacing">deaths</text>
</svg>
</body></html>
